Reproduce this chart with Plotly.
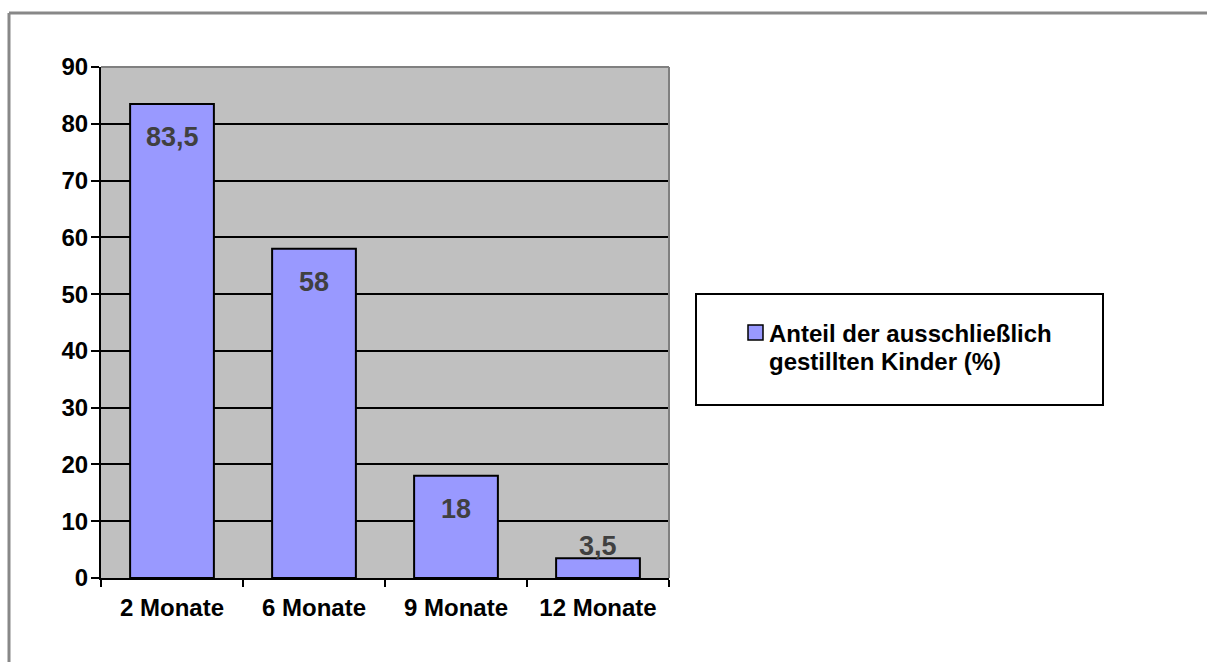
import plotly.graph_objects as go

# Anteil ausschließlich gestillter Kinder nach Alter
categories = ["2 Monate", "6 Monate", "9 Monate", "12 Monate"]
values = [83.5, 58, 18, 3.5]
value_labels = ["83,5", "58", "18", "3,5"]
series_lines = ["Anteil der ausschließlich", "gestillten Kinder (%)"]
bar_color = "#9999FF"

W, H = 1207, 662
L, R, T, B = 101, 538, 67, 84
PW, PH = W - L - R, H - T - B


def px_x(p):
    return (p - L) / PW


def px_y(q):
    return (H - B - q) / PH


FONT = "Liberation Sans, Arial, sans-serif"

fig = go.Figure()
fig.add_trace(go.Bar(
    x=categories,
    y=values,
    name=" ".join(series_lines),
    marker=dict(color=bar_color, line=dict(color="#000000", width=2)),
    hoverinfo="x+y",
    showlegend=False,
))

# Data labels: inside the bar top when it fits, otherwise just above it
annotations = []
for cat, val, lab in zip(categories, values, value_labels):
    inside = val > 8
    annotations.append(dict(
        x=cat, y=val, xref="x", yref="y",
        text="<b>" + lab + "</b>",
        showarrow=False,
        yanchor="middle",
        yshift=-33 if inside else 12,
        font=dict(family=FONT, size=27, color="#404040"),
    ))

# Legend text, one annotation per line
for i, line in enumerate(series_lines):
    annotations.append(dict(
        x=px_x(767), y=px_y(333 + 28 * i), xref="paper", yref="paper",
        text="<b>" + line + "</b>",
        showarrow=False, xanchor="left", yanchor="middle",
        font=dict(family=FONT, size=24, color="#000000"),
    ))

shapes = [
    # outer chart frame (top and left edges)
    dict(type="line", xref="paper", yref="paper",
         x0=px_x(9), x1=px_x(1220), y0=px_y(13), y1=px_y(13),
         line=dict(color="#888888", width=3), layer="above"),
    dict(type="line", xref="paper", yref="paper",
         x0=px_x(9), x1=px_x(9), y0=px_y(13), y1=px_y(700),
         line=dict(color="#888888", width=3), layer="above"),
    # plot area border, top and right
    dict(type="line", xref="paper", yref="paper",
         x0=0, x1=1, y0=1, y1=1,
         line=dict(color="#808080", width=2), layer="above"),
    dict(type="line", xref="paper", yref="paper",
         x0=1, x1=1, y0=0, y1=1,
         line=dict(color="#808080", width=2), layer="above"),
    # legend box
    dict(type="rect", xref="paper", yref="paper",
         x0=px_x(696), x1=px_x(1103), y0=px_y(405), y1=px_y(294),
         line=dict(color="#000000", width=2), fillcolor="rgba(0,0,0,0)"),
    # legend key
    dict(type="rect", xref="paper", yref="paper",
         x0=px_x(748), x1=px_x(763), y0=px_y(340), y1=px_y(325),
         line=dict(color="#000000", width=1.5), fillcolor=bar_color),
]

fig.update_layout(
    width=W, height=H,
    margin=dict(l=L, r=R, t=T, b=B, pad=0),
    paper_bgcolor="#FFFFFF",
    plot_bgcolor="#C0C0C0",
    font=dict(family=FONT, size=24, color="#000000"),
    bargap=0.41,
    showlegend=False,
    xaxis=dict(
        type="category",
        tickson="boundaries",
        ticks="outside", ticklen=7, tickwidth=2, tickcolor="#000000",
        ticklabelstandoff=7,
        showline=True, linecolor="#000000", linewidth=2,
        showgrid=False,
        tickfont=dict(family=FONT, size=24, color="#000000", weight="bold"),
        fixedrange=True,
    ),
    yaxis=dict(
        range=[0, 90], dtick=10, tick0=0,
        ticks="outside", ticklen=8, tickwidth=2, tickcolor="#000000",
        ticklabelstandoff=-2,
        showline=True, linecolor="#000000", linewidth=2,
        showgrid=True, gridcolor="#000000", gridwidth=2,
        zeroline=False,
        tickfont=dict(family=FONT, size=24, color="#000000", weight="bold"),
        fixedrange=True,
    ),
    annotations=annotations,
    shapes=shapes,
)

fig.write_html("out.html")
